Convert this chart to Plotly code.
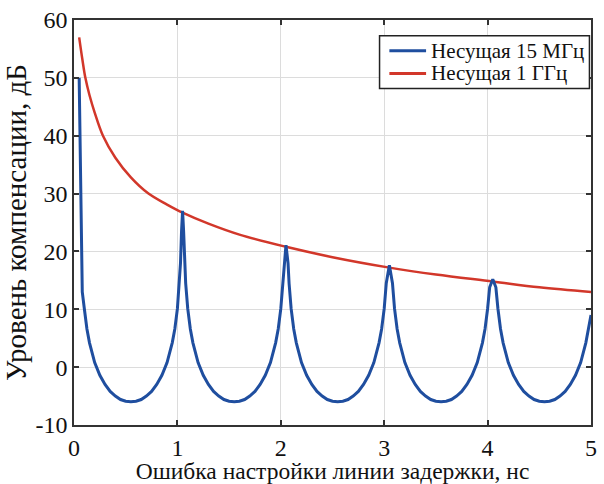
import plotly.graph_objects as go

# Blue series: carrier 15 MHz
blue_x = [0.05, 0.08, 0.10, 0.125, 0.15, 0.20, 0.25, 0.30, 0.35, 0.40, 0.45, 0.50, 0.55,
          0.60, 0.65, 0.70, 0.75, 0.80, 0.85, 0.90, 0.95, 0.975, 1.00, 1.02, 1.03, 1.04, 1.05,
          1.06, 1.07, 1.08, 1.10, 1.125, 1.15, 1.20, 1.25, 1.30, 1.35, 1.40, 1.45, 1.50, 1.55,
          1.60, 1.65, 1.70, 1.75, 1.80, 1.85, 1.90, 1.95, 1.975, 2.00, 2.02, 2.03, 2.05,
          2.07, 2.08, 2.10, 2.125, 2.15, 2.20, 2.25, 2.30, 2.35, 2.40, 2.45, 2.50, 2.55,
          2.60, 2.65, 2.70, 2.75, 2.80, 2.85, 2.90, 2.95, 2.975, 3.00, 3.02, 3.05,
          3.08, 3.10, 3.125, 3.15, 3.20, 3.25, 3.30, 3.35, 3.40, 3.45, 3.50, 3.55,
          3.60, 3.65, 3.70, 3.75, 3.80, 3.85, 3.90, 3.95, 3.975, 4.00, 4.02, 4.05,
          4.08, 4.10, 4.125, 4.15, 4.20, 4.25, 4.30, 4.35, 4.40, 4.45, 4.50, 4.55,
          4.60, 4.65, 4.70, 4.75, 4.80, 4.85, 4.90, 4.95, 4.975, 5.00]
blue_y = [50.0, 13.0, 10.1, 6.6, 4.2, 0.8, -1.4, -3.0, -4.2, -5.0, -5.6, -5.9, -6.0,
          -5.9, -5.6, -5.0, -4.2, -3.0, -1.4, 0.8, 4.2, 6.6, 10.1, 14.5, 18.0, 23.5, 27.0,
          23.5, 18.0, 14.5, 10.1, 6.6, 4.2, 0.8, -1.4, -3.0, -4.2, -5.0, -5.6, -5.9, -6.0,
          -5.9, -5.6, -5.0, -4.2, -3.0, -1.4, 0.8, 4.2, 6.6, 10.1, 14.5, 18.0, 21.1,
          18.0, 14.5, 10.1, 6.6, 4.2, 0.8, -1.4, -3.0, -4.2, -5.0, -5.6, -5.9, -6.0,
          -5.9, -5.6, -5.0, -4.2, -3.0, -1.4, 0.8, 4.2, 6.6, 10.1, 14.5, 17.6,
          14.5, 10.1, 6.6, 4.2, 0.8, -1.4, -3.0, -4.2, -5.0, -5.6, -5.9, -6.0,
          -5.9, -5.6, -5.0, -4.2, -3.0, -1.4, 0.8, 4.2, 6.6, 10.1, 13.8, 15.2,
          13.8, 10.1, 6.6, 4.2, 0.8, -1.4, -3.0, -4.2, -5.0, -5.6, -5.9, -6.0,
          -5.9, -5.6, -5.0, -4.2, -3.0, -1.4, 0.8, 4.2, 6.6, 9.0]

# Red series: carrier 1 GHz
red_x = [0.05, 0.08, 0.11, 0.15, 0.20, 0.28, 0.40, 0.55, 0.72, 0.90, 1.05, 1.30, 1.60,
         2.05, 2.50, 3.05, 3.50, 4.05, 4.50, 5.00]
red_y = [57.0, 53.3, 50.0, 47.0, 44.0, 40.0, 36.2, 32.8, 30.0, 28.1, 26.7, 24.8, 22.9,
         20.8, 19.0, 17.2, 16.0, 14.8, 13.8, 13.0]

series_names = ["Несущая 15 МГц", "Несущая 1 ГГц"]
series_colors = ["#1f4e9f", "#d2372a"]
x_title = "Ошибка настройки линии задержки, нс"
y_title = "Уровень компенсации, дБ"
x_ticks = [0, 1, 2, 3, 4, 5]
x_tick_text = ["0", "1", "2", "3", "4", "5"]
y_ticks = [-10, 0, 10, 20, 30, 40, 50, 60]
y_tick_text = ["-10", "0", "10", "20", "30", "40", "50", "60"]

font_family = "Liberation Serif, Times New Roman, serif"

fig = go.Figure()
# red drawn first so the blue peaks sit on top of it
fig.add_trace(go.Scatter(x=red_x, y=red_y, mode="lines", name=series_names[1],
                         line=dict(color=series_colors[1], width=2.5, shape="spline")))
fig.add_trace(go.Scatter(x=blue_x, y=blue_y, mode="lines", name=series_names[0],
                         line=dict(color=series_colors[0], width=3)))

axis_common = dict(
    showline=True, linecolor="#333333", linewidth=1.5, mirror="ticks",
    ticks="inside", ticklen=5, tickcolor="#333333", tickwidth=1.5,
    showgrid=True, gridcolor="#dcdcdc", gridwidth=1, zeroline=False,
    tickfont=dict(family=font_family, size=24, color="#111111"),
)

# Legend drawn as box + line samples + text (in axis-domain coordinates)
leg_box = dict(x0=0.591, x1=0.997, y0=0.831, y1=0.961)
leg_rows_y = [0.924, 0.868]
leg_line_x = [0.610, 0.681]
leg_text_x = 0.686

shapes = [dict(type="rect", xref="x domain", yref="y domain",
               x0=leg_box["x0"], x1=leg_box["x1"], y0=leg_box["y0"], y1=leg_box["y1"],
               line=dict(color="#222222", width=1.5), fillcolor="white", layer="above")]
annotations = []
for name, color, ry in zip(series_names, series_colors, leg_rows_y):
    shapes.append(dict(type="line", xref="x domain", yref="y domain",
                       x0=leg_line_x[0], x1=leg_line_x[1], y0=ry, y1=ry,
                       line=dict(color=color, width=3), layer="above"))
    annotations.append(dict(xref="x domain", yref="y domain", x=leg_text_x, y=ry,
                            xanchor="left", yanchor="middle", showarrow=False, text=name,
                            font=dict(family=font_family, size=21, color="#111111")))

fig.update_layout(
    width=604, height=484,
    margin=dict(l=74, r=7, t=19, b=56),
    paper_bgcolor="white", plot_bgcolor="white",
    font=dict(family=font_family, color="#111111"),
    xaxis=dict(range=[0, 5], tickvals=x_ticks, ticktext=x_tick_text,
               title=dict(text=x_title, font=dict(family=font_family, size=23.5), standoff=0),
               **axis_common),
    yaxis=dict(range=[-10, 60], tickvals=y_ticks, ticktext=y_tick_text,
               title=dict(text=y_title, font=dict(family=font_family, size=29), standoff=2),
               **axis_common),
    shapes=shapes,
    annotations=annotations,
    showlegend=False,
)

fig.write_html("out.html")
